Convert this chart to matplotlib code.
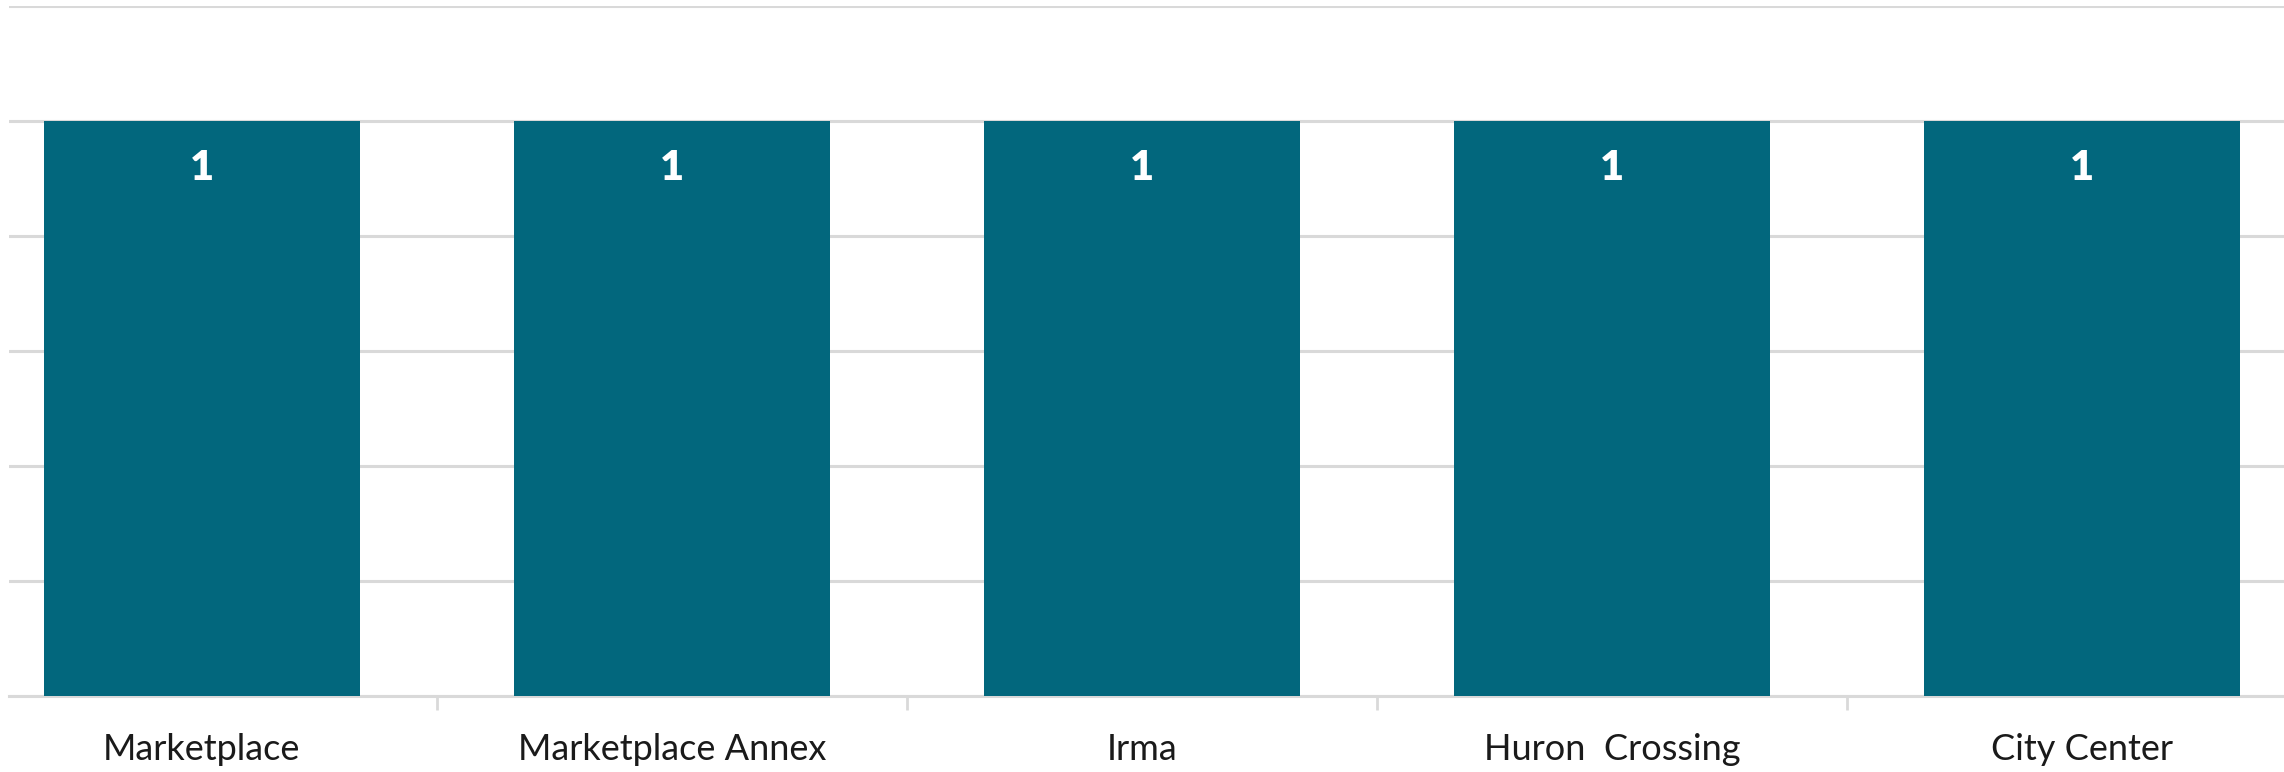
import numpy as np
import matplotlib
matplotlib.use("Agg")
import matplotlib.pyplot as plt

# data
categories = ["Marketplace", "Marketplace Annex", "Irma", "Huron  Crossing", "City Center"]
counts = [1, 1, 1, 1, 1]

bar_color = "#02677d"
grid_color = "#d9d9d9"

plt.rcParams["font.family"] = ["Lato", "DejaVu Sans"]

fig = plt.figure(figsize=(22.84, 7.72), dpi=100)
ax = fig.add_axes([9 / 2284, 1 - 696 / 772, 1 - 9 / 2284, (696 - 5.5) / 772])

x = np.arange(len(categories))
bars = ax.bar(x, counts, width=0.672, color=bar_color, zorder=3)

for rect, v in zip(bars, counts):
    ax.text(rect.get_x() + rect.get_width() / 2, v - 0.05, str(v),
            ha="center", va="top", color="white", fontsize=30, fontweight="heavy", zorder=4)

ax.set_xlim(-0.41, 4.43)
ax.set_ylim(0, 1.2)
ax.set_yticks(np.arange(0, 1.21, 0.2))
ax.yaxis.grid(True, color=grid_color, linewidth=2.2, zorder=0)
ax.tick_params(axis="y", length=0, labelleft=False)

ax.set_xticks(x)
ax.set_xticklabels(categories, fontsize=26, color="#1a1a1a")
ax.tick_params(axis="x", which="major", length=0, pad=27)
ax.set_xticks(x[:-1] + 0.5, minor=True)
ax.tick_params(axis="x", which="minor", length=10, width=2, color=grid_color)

for s in ("top", "right", "left"):
    ax.spines[s].set_visible(False)
ax.spines["bottom"].set_color(grid_color)
ax.spines["bottom"].set_linewidth(2.2)

fig.savefig("out.png", dpi=100, facecolor="white")
